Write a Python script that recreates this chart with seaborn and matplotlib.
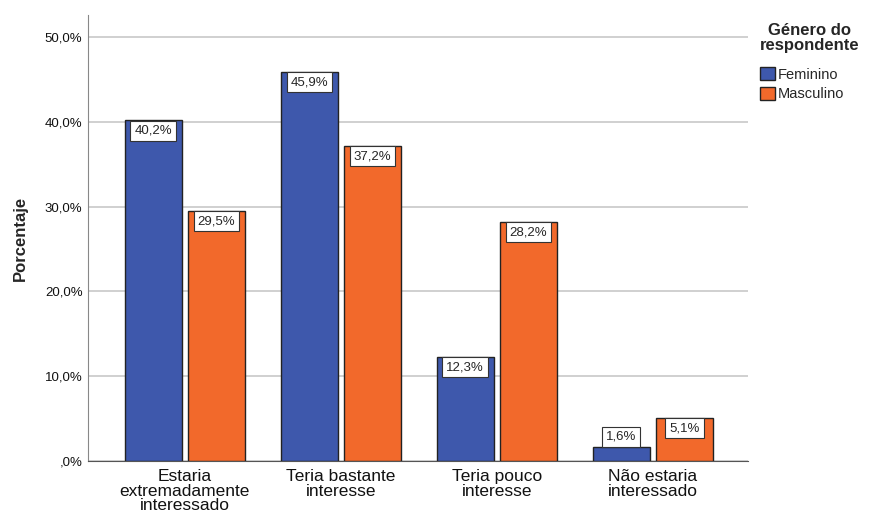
import numpy as np
import pandas as pd
import matplotlib
matplotlib.use("Agg")
import matplotlib.pyplot as plt
import seaborn as sns

# =========================
# data
# =========================
categories = ["Estaria\nextremadamente\ninteressado", "Teria bastante\ninteresse",
              "Teria pouco\ninteresse", "Não estaria\ninteressado"]
groups = ["Feminino", "Masculino"]
feminino = [40.2, 45.9, 12.3, 1.6]
masculino = [29.5, 37.2, 28.2, 5.1]
y_ticks = [0, 10, 20, 30, 40, 50]

df = pd.DataFrame({
    "categoria": categories * 2,
    "genero": [groups[0]] * 4 + [groups[1]] * 4,
    "pct": feminino + masculino,
})

# =========================
# plot
# =========================
sns.set_style("white")
plt.rcParams["font.family"] = ["Liberation Sans", "DejaVu Sans"]

fig = plt.figure(figsize=(8.75, 5.21), dpi=100)
ax = fig.add_axes([0.1006, 0.1152, 0.7543, 0.856])

palette = {"Feminino": "#3E58AC", "Masculino": "#F2692B"}
sns.barplot(data=df, x="categoria", y="pct", hue="genero", palette=palette,
            width=0.808, gap=0.1, edgecolor="#222222", linewidth=1.0,
            saturation=1, ax=ax, legend=True, zorder=3)

ax.set_xlim(-0.62, 3.61)
ax.set_ylim(0, 52.6)
ax.set_yticks(y_ticks)
ax.set_yticklabels([",0%" if v == 0 else f"{v},0%" for v in y_ticks], fontsize=9.5)
ax.yaxis.grid(True, color="#c8c8c8", linewidth=1.2, zorder=0)
ax.set_axisbelow(True)
ax.tick_params(axis="x", labelsize=12.5, length=0, pad=6)
ax.tick_params(axis="y", length=0, pad=4)
for lab in ax.get_xticklabels():
    lab.set_linespacing(0.95)
    lab.set_color("#111111")
for lab in ax.get_yticklabels():
    lab.set_color("#111111")

ax.set_xlabel("")
ax.set_ylabel("Porcentaje", fontsize=12, fontweight="bold", labelpad=12)

sns.despine(ax=ax, top=True, right=True)
ax.spines["left"].set_color("#888888")
ax.spines["bottom"].set_color("#555555")

# value labels
for cont in ax.containers:
    for bar in cont:
        h = bar.get_height()
        xc = bar.get_x() + bar.get_width() / 2
        label = f"{h:.1f}%".replace(".", ",")
        box = dict(boxstyle="square,pad=0.3", fc="white", ec="#333333", lw=0.8)
        if h < 3:
            ax.annotate(label, (xc, h), xytext=(0, 3.5), textcoords="offset points",
                        ha="center", va="bottom", fontsize=9.5, zorder=5, bbox=box)
        else:
            ax.annotate(label, (xc, h), xytext=(0, -3.2), textcoords="offset points",
                        ha="center", va="top", fontsize=9.5, zorder=5, bbox=box)

# legend
handles, labels = ax.get_legend_handles_labels()
ax.get_legend().remove()
leg = fig.legend(handles, labels, title="Género do\nrespondente", loc="upper left",
                 bbox_to_anchor=(0.857, 0.975), frameon=False, fontsize=10.5,
                 handlelength=1.0, handleheight=1.0, handletextpad=0.2,
                 labelspacing=0.35, borderpad=0.2)
leg.get_title().set_fontweight("bold")
leg.get_title().set_fontsize(12)
leg.get_title().set_multialignment("center")
leg.get_title().set_linespacing(1.0)
leg._legend_box.align = "left"
leg._legend_box.sep = 10

fig.savefig("out.png", dpi=100)
